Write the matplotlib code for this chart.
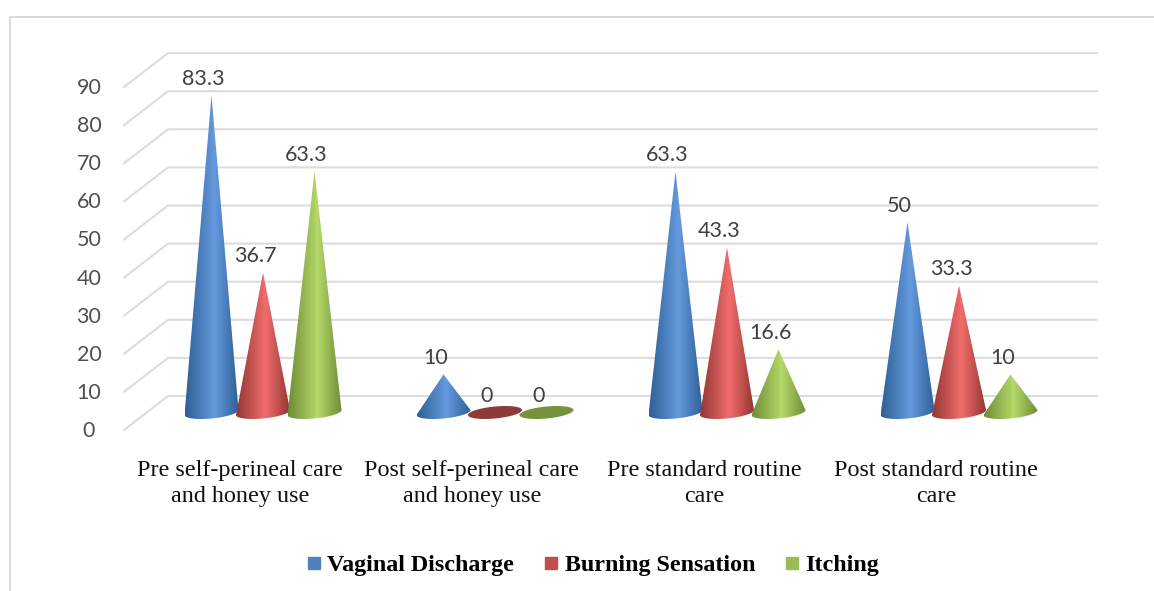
import numpy as np
import matplotlib.pyplot as plt
from matplotlib.colors import LinearSegmentedColormap
from matplotlib.lines import Line2D
from matplotlib.patches import PathPatch, Polygon
from matplotlib.path import Path

categories = ["Pre self-perineal care\nand honey use", "Post self-perineal care\nand honey use",
              "Pre standard routine\ncare", "Post standard routine\ncare"]
series_names = ["Vaginal Discharge", "Burning Sensation", "Itching"]
vaginal = [83.3, 10, 63.3, 50]
burning = [36.7, 0, 43.3, 33.3]
itching = [63.3, 0, 16.6, 10]
labels_vaginal = ["83.3", "10", "63.3", "50"]
labels_burning = ["36.7", "0", "43.3", "33.3"]
labels_itching = ["63.3", "0", "16.6", "10"]
y_ticks = list(range(0, 100, 10))

W, H = 1154, 591
PX_X = 232.0   # pixels per category
PX_Y = 3.81    # pixels per value unit
X0, Y0 = 263.0, 412.5  # pixel of category 0 / value 0

# shades: edge, light middle, zero-height ellipse, legend
colors = [("#2f5f96", "#659ade", "#2f5f96", "#4f81bd"),
          ("#943634", "#f06e6c", "#8e3b38", "#c0504d"),
          ("#6f8c35", "#b5d96a", "#76923c", "#9bbb59")]

fig = plt.figure(figsize=(W / 100, H / 100), dpi=100)
ax = fig.add_axes([0, 0, 1, 1])
ax.set_xlim(-X0 / PX_X, (W - X0) / PX_X)
ax.set_ylim((Y0 - H) / PX_Y, Y0 / PX_Y)
ax.axis("off")


def dx(px):
    return px / PX_X


def dy(px):
    return px / PX_Y


# outer frame of the chart
frame = "#d9d9d9"
ax.plot([dx(10.5 - X0)] * 2, [dy(Y0 - 591), dy(Y0 - 16.5)], color=frame, lw=1.4)
ax.plot([dx(10.5 - X0), dx(1154 - X0)], [dy(Y0 - 16.5)] * 2, color=frame, lw=1.4)

# 3d walls: back gridlines + slanted floor/side lines
grid = "#dcdcdc"
back = dy(Y0 - 396)
front = dy(Y0 - 430)
for t in y_ticks:
    ax.plot([dx(124 - X0), dx(168 - X0), dx(1097 - X0)],
            [t + front, t + back, t + back], color=grid, lw=1.5, solid_joinstyle="miter")
    ax.text(dx(89 - X0), t + dy(Y0 - 431), str(t), fontsize=15.5, family="Lato",
            color="#505050", ha="center", va="center")


def cone(cx, value, edge, light, flat):
    a, b, tilt = dx(27), dy(6), dy(2.5)
    t = np.linspace(0, 2 * np.pi, 60)
    ex = cx + a * np.cos(t)
    ey = b * np.sin(t) + tilt * np.cos(t)
    if value == 0:
        ax.add_patch(Polygon(np.c_[ex, ey], closed=True, fc=flat, ec="none", zorder=3))
        return
    # outline: tip, left rim, lower half of base, right rim
    low = np.linspace(np.pi, 2 * np.pi, 40)
    lx = cx + a * np.cos(low)
    ly = b * np.sin(low) + tilt * np.cos(low)
    pts = np.r_[[[cx, value]], np.c_[lx, ly], [[cx, value]]]
    patch = PathPatch(Path(pts), fc="none", ec="none", zorder=3)
    ax.add_patch(patch)
    cmap = LinearSegmentedColormap.from_list("c", [(0, edge), (0.55, light), (1, edge)])
    grad = np.linspace(0, 1, 128)[None, :]
    im = ax.imshow(grad, cmap=cmap, extent=[cx - a, cx + a, -2 * b, value],
                   aspect="auto", zorder=3, interpolation="bilinear")
    im.set_clip_path(patch)


all_vals = [vaginal, burning, itching]
all_labels = [labels_vaginal, labels_burning, labels_itching]
for s, (vals, labs) in enumerate(zip(all_vals, all_labels)):
    edge, light, flat, _ = colors[s]
    for i, (v, lab) in enumerate(zip(vals, labs)):
        cx = i + dx((s - 1) * 51.5)
        cone(cx, v, edge, light, flat)
        ax.text(cx - dx(8), v + dy(16.5), lab, fontsize=15.5, family="Lato",
                color="#404040", ha="center", va="center", zorder=4)

ax.set_xlim(-X0 / PX_X, (W - X0) / PX_X)
ax.set_ylim((Y0 - H) / PX_Y, Y0 / PX_Y)

for i, c in enumerate(categories):
    ax.text(i - dx(23), dy(Y0 - 483.5), c, fontsize=17.4, family="Liberation Serif",
            color="#111111", ha="center", va="center", linespacing=1.36)

handles = [Line2D([], [], ls="none", marker="s", ms=8.5, color=colors[s][3]) for s in range(3)]
ax.legend(handles, series_names, ncol=3, frameon=False, loc="center",
          bbox_to_anchor=(593 / W, 1 - 565 / H), handlelength=0.6, handletextpad=0.25,
          columnspacing=1.25,
          prop={"family": "Liberation Serif", "weight": "bold", "size": 17.3})

fig.savefig("out.png", dpi=100)
